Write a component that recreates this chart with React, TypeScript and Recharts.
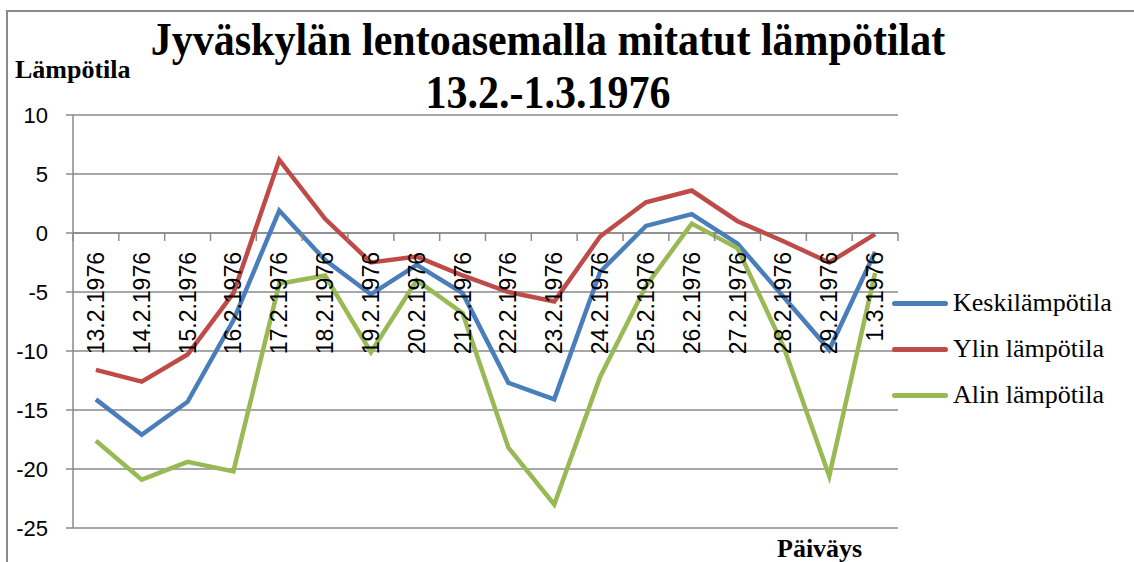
import { LineChart, Line, XAxis, YAxis, CartesianGrid, ReferenceLine } from "recharts";

const dates = [
  "13.2.1976", "14.2.1976", "15.2.1976", "16.2.1976", "17.2.1976", "18.2.1976",
  "19.2.1976", "20.2.1976", "21.2.1976", "22.2.1976", "23.2.1976", "24.2.1976",
  "25.2.1976", "26.2.1976", "27.2.1976", "28.2.1976", "29.2.1976", "1.3.1976",
];
const keski = [-14.1, -17.1, -14.3, -7.4, 1.9, -2.3, -5.2, -2.7, -5.1, -12.7, -14.1, -3.3, 0.6, 1.6, -0.9, -5.4, -9.9, -1.6];
const ylin = [-11.6, -12.6, -10.3, -5.1, 6.2, 1.2, -2.5, -2.0, -3.6, -5.0, -5.8, -0.3, 2.6, 3.6, 1.0, -0.7, -2.5, -0.1];
const alin = [-17.6, -20.9, -19.4, -20.2, -4.3, -3.6, -10.1, -4.0, -6.8, -18.2, -23.0, -12.2, -4.5, 0.8, -1.3, -9.6, -20.6, -3.4];
const yTicks = [-25, -20, -15, -10, -5, 0, 5, 10];

const series = [
  { key: "Keskilämpötila", values: keski, color: "#4a7ebb" },
  { key: "Ylin lämpötila", values: ylin, color: "#be4b48" },
  { key: "Alin lämpötila", values: alin, color: "#98b954" },
];

const data = dates.map((d, i) => {
  const row: Record<string, number | string> = { date: d };
  series.forEach((s) => (row[s.key] = s.values[i]));
  return row;
});

const W = 1134;
const H = 562;
const X_AXIS_H = 1;
const M = { top: 115, right: 236, bottom: 34 - X_AXIS_H, left: 0 };
const Y_AXIS_W = 73;
const PLOT_W = W - M.left - M.right - Y_AXIS_W;
const PLOT_H = H - M.top - M.bottom - X_AXIS_H;
const Y_MIN = -25;
const Y_MAX = 10;
const BAND = PLOT_W / dates.length;
const Y_ZERO = M.top + ((Y_MAX - 0) / (Y_MAX - Y_MIN)) * PLOT_H;
const GRID = "#8a8a8a";
const SANS = "'Liberation Sans', Arial, sans-serif";
const SERIF = "'Liberation Serif', 'Times New Roman', serif";

function DateTick(props: any) {
  const { x, payload, index } = props;
  const ly = Y_ZERO + 19;
  return (
    <g>
      <line x1={x - BAND / 2} x2={x - BAND / 2} y1={Y_ZERO} y2={Y_ZERO + 8} stroke={GRID} strokeWidth={1.5} />
      {index === dates.length - 1 && (
        <line x1={x + BAND / 2} x2={x + BAND / 2} y1={Y_ZERO} y2={Y_ZERO + 8} stroke={GRID} strokeWidth={1.5} />
      )}
      <text
        x={x}
        y={ly}
        dy="0.35em"
        transform={`rotate(-90 ${x} ${ly})`}
        textAnchor="end"
        fontFamily={SANS}
        fontSize={23}
        fill="#000"
      >
        {payload.value}
      </text>
    </g>
  );
}

function TempTick(props: any) {
  const { y, payload } = props;
  return (
    <text x={48} y={y} dy="0.35em" textAnchor="end" fontFamily={SANS} fontSize={22} fill="#000">
      {payload.value}
    </text>
  );
}

function LegendBox() {
  return (
    <div style={{ position: "absolute", left: 892, top: 280, fontFamily: SERIF, fontSize: 26, color: "#000" }}>
      {series.map((s) => (
        <div key={s.key} style={{ display: "flex", alignItems: "center", height: 46 }}>
          <div style={{ width: 56, height: 5, borderRadius: 3, background: s.color, marginRight: 5 }} />
          <span>{s.key}</span>
        </div>
      ))}
    </div>
  );
}

export default function App() {
  return (
    <div style={{ position: "absolute", left: 0, top: 0, width: W, height: H, background: "#fff" }}>
      <div
        style={{
          position: "absolute",
          left: 6,
          top: 10,
          width: W - 6,
          height: H - 10,
          borderTop: `2px solid ${GRID}`,
          borderLeft: `2px solid ${GRID}`,
        }}
      />
      <LineChart width={W} height={H} data={data} margin={M}>
        <CartesianGrid horizontal vertical={false} stroke={GRID} strokeWidth={1.5} />
        <XAxis
          dataKey="date"
          interval={0}
          height={X_AXIS_H}
          padding={{ left: BAND / 2, right: BAND / 2 }}
          axisLine={false}
          tickLine={false}
          tick={<DateTick />}
        />
        <YAxis
          domain={[Y_MIN, Y_MAX]}
          ticks={yTicks}
          width={Y_AXIS_W}
          stroke={GRID}
          strokeWidth={1.5}
          tickSize={7}
          tick={<TempTick />}
        />
        <ReferenceLine y={0} stroke={GRID} strokeWidth={1.5} />
        {series.map((s) => (
          <Line
            key={s.key}
            dataKey={s.key}
            type="linear"
            stroke={s.color}
            strokeWidth={4.5}
            dot={false}
            isAnimationActive={false}
          />
        ))}
      </LineChart>
      <LegendBox />
      <div
        style={{
          position: "absolute",
          left: 0,
          width: 1096,
          top: 12,
          textAlign: "center",
          fontFamily: SERIF,
          fontWeight: "bold",
          fontSize: 42,
          lineHeight: "48px",
          transform: "scaleY(1.12)",
          transformOrigin: "top",
        }}
      >
        <div>Jyväskylän lentoasemalla mitatut lämpötilat</div>
        <div>13.2.-1.3.1976</div>
      </div>
      <div style={{ position: "absolute", left: 15, top: 55, fontFamily: SERIF, fontWeight: "bold", fontSize: 26 }}>
        Lämpötila
      </div>
      <div style={{ position: "absolute", left: 777, top: 534, fontFamily: SERIF, fontWeight: "bold", fontSize: 26 }}>
        Päiväys
      </div>
    </div>
  );
}
